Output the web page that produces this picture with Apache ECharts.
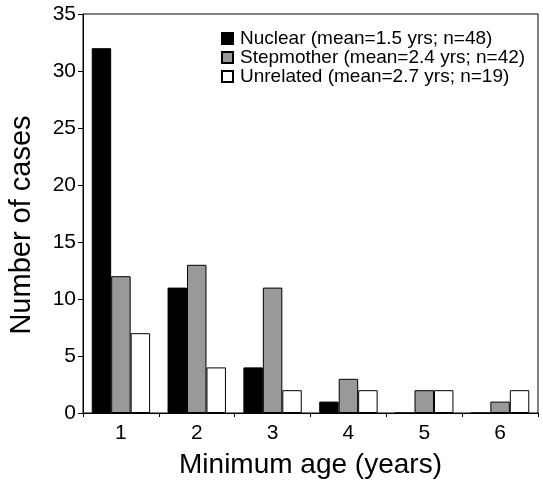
<!DOCTYPE html>
<html>
<head>
<meta charset="utf-8">
<script src="https://cdn.jsdelivr.net/npm/echarts@6/dist/echarts.min.js"></script>
<style>
  html, body { margin: 0; padding: 0; background: #fff; }
  #chart { width: 543px; height: 483px; }
</style>
</head>
<body>
<div id="chart"></div>
<script>
// Minimum age (years) categories
const ages = ['1', '2', '3', '4', '5', '6'];

// Case counts per household type
const nuclear = [32, 11, 4, 1, 0, 0];
const stepmother = [12, 13, 11, 3, 2, 1];
const unrelated = [7, 4, 2, 2, 2, 2];

const seriesNames = [
  'Nuclear (mean=1.5 yrs; n=48)',
  'Stepmother (mean=2.4 yrs; n=42)',
  'Unrelated (mean=2.7 yrs; n=19)'
];

const yTicks = [0, 5, 10, 15, 20, 25, 30, 35];

const FONT = '"Liberation Sans", Arial, Helvetica, sans-serif';

const chart = echarts.init(document.getElementById('chart'), null, { renderer: 'canvas' });

function barSeries(name, data, fill) {
  return {
    name: name,
    type: 'bar',
    data: data,
    barGap: '0%',
    barCategoryGap: '23%',
    itemStyle: { color: fill, borderColor: '#000', borderWidth: 1 },
    emphasis: { disabled: true },
    animation: false
  };
}

chart.setOption({
  animation: false,
  backgroundColor: '#fff',
  textStyle: { fontFamily: FONT, color: '#000' },
  grid: {
    left: 83, right: 5, top: 14, bottom: 70,
    show: true, borderColor: '#000', borderWidth: 1,
    containLabel: false,
    outerBoundsMode: 'none'
  },
  legend: {
    orient: 'vertical',
    left: 216,
    top: 24,
    itemWidth: 11,
    itemHeight: 11,
    itemGap: 0,
    icon: 'rect',
    selectedMode: false,
    textStyle: { fontFamily: FONT, fontSize: 19, color: '#000', lineHeight: 19, padding: [0, 0, 0, 2] },
    data: seriesNames
  },
  xAxis: {
    type: 'category',
    data: ages,
    name: 'Minimum age (years)',
    nameLocation: 'middle',
    nameGap: 38,
    nameTextStyle: { fontFamily: FONT, fontSize: 28, color: '#000' },
    axisLine: { lineStyle: { color: '#000', width: 1 } },
    axisTick: { show: true, inside: false, length: 4, alignWithLabel: false, lineStyle: { color: '#000' } },
    axisLabel: { fontFamily: FONT, fontSize: 21, color: '#000', margin: 10 },
    splitLine: { show: false }
  },
  yAxis: {
    type: 'value',
    min: 0,
    max: 35,
    interval: 5,
    name: 'Number of cases',
    nameLocation: 'middle',
    nameGap: 47,
    nameTextStyle: { fontFamily: FONT, fontSize: 29, color: '#000', padding: [0, 23, 0, 0] },
    axisLine: { show: true, lineStyle: { color: '#000', width: 1 } },
    axisTick: { show: true, length: 5, lineStyle: { color: '#000' } },
    axisLabel: {
      fontFamily: FONT, fontSize: 21, color: '#000', margin: 7,
      formatter: function (v) { return yTicks.indexOf(v) >= 0 ? String(v) : ''; }
    },
    splitLine: { show: false }
  },
  series: [
    barSeries(seriesNames[0], nuclear, '#000000'),
    barSeries(seriesNames[1], stepmother, '#999999'),
    barSeries(seriesNames[2], unrelated, '#ffffff')
  ]
});
</script>
</body>
</html>
